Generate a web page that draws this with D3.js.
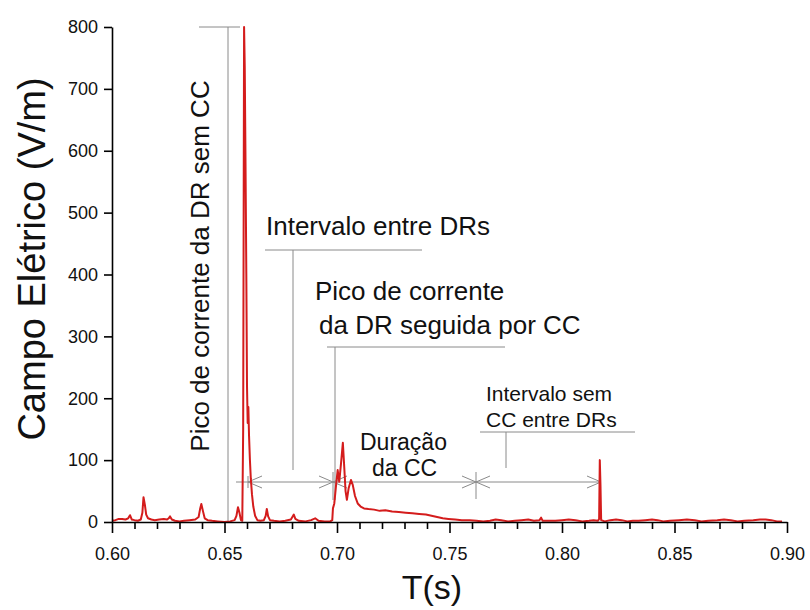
<!DOCTYPE html>
<html>
<head>
<meta charset="utf-8">
<script src="https://cdn.jsdelivr.net/npm/d3@7"></script>
<style>
  html, body { margin: 0; padding: 0; background: #fff; }
  svg { display: block; font-family: "Liberation Sans", Arial, sans-serif; }
</style>
</head>
<body>
<svg id="chart" width="810" height="610"></svg>
<script>
// ---- data (time in s, electric field in V/m) ----
const times = [
  0.6000,0.6015,0.6030,0.6045,0.6060,0.6072,0.6080,0.6088,0.6100,0.6115,
  0.6128,0.6135,0.6140,0.6146,0.6152,0.6160,0.6175,0.6190,0.6210,0.6230,
  0.6245,0.6252,0.6258,0.6266,0.6280,0.6300,0.6320,0.6345,0.6370,0.6385,
  0.6392,0.6397,0.6404,0.6412,0.6425,0.6445,0.6470,0.6500,0.6525,0.6545,
  0.6553,0.6560,0.6567,0.6573,0.6579,0.6583,0.6587,0.6590,0.6593,0.6597,
  0.6600,0.6603,0.6606,0.6609,0.6613,0.6617,0.6622,0.6628,0.6636,0.6646,
  0.6660,0.6675,0.6683,0.6688,0.6694,0.6702,0.6720,0.6745,0.6770,0.6795,
  0.6803,0.6808,0.6815,0.6830,0.6860,0.6885,0.6903,0.6918,0.6945,0.6970,
  0.6979,0.6982,0.6988,0.6996,0.7003,0.7010,0.7018,0.7026,0.7032,0.7038,
  0.7044,0.7052,0.7062,0.7070,0.7080,0.7092,0.7105,0.7120,0.7140,0.7165,
  0.7190,0.7215,0.7245,0.7275,0.7305,0.7335,0.7365,0.7395,0.7420,0.7445,
  0.7470,0.7495,0.7525,0.7555,0.7590,0.7620,0.7650,0.7680,0.7705,0.7730,
  0.7760,0.7790,0.7820,0.7850,0.7875,0.7900,0.7907,0.7914,0.7940,0.7970,
  0.8000,0.8030,0.8060,0.8090,0.8120,0.8140,0.8160,0.8165,0.8168,0.8171,
  0.8174,0.8190,0.8215,0.8240,0.8265,0.8290,0.8315,0.8340,0.8370,0.8400,
  0.8425,0.8450,0.8480,0.8520,0.8555,0.8590,0.8620,0.8650,0.8690,0.8720,
  0.8750,0.8780,0.8810,0.8850,0.8880,0.8905,0.8930,0.8955,0.8978
];
const field = [
  2,3,5,5,4,6,11,4,3,2,
  4,15,40,28,12,6,4,3,4,5,
  4,6,9,4,2,1,2,3,4,8,
  22,29,18,6,3,2,1,0,1,3,
  10,24,14,3,2,150,800,735,600,400,
  220,160,186,140,100,70,45,25,10,3,
  2,3,10,21,9,3,2,1,2,4,
  9,12,5,2,1,3,6,2,1,1,
  3,22,30,60,84,65,95,128,90,50,
  36,55,68,60,42,30,25,22,21,20,
  18,19,17,16,15,14,13,12,10,8,
  6,5,4,3,3,2,1,2,4,3,
  1,2,3,4,2,3,7,2,2,2,
  3,4,3,1,2,3,2,5,100,60,
  3,1,3,4,3,1,2,2,3,4,
  3,1,2,3,4,3,1,2,3,4,
  3,1,2,3,4,4,3,1,1
];
const xTicks = [0.60, 0.65, 0.70, 0.75, 0.80, 0.85, 0.90];
const xMinorTicks = d3.range(61, 90).map(d => d / 100).filter(d => Math.round(d * 100) % 5 !== 0);
const yTicks = [0, 100, 200, 300, 400, 500, 600, 700, 800];
const xLabel = "T(s)";
const yLabel = "Campo Elétrico (V/m)";

// ---- layout ----
const svg = d3.select("#chart");
svg.append("rect").attr("width", 810).attr("height", 610).attr("fill", "#fff");

const x = d3.scaleLinear().domain([0.6, 0.9]).range([112, 787]);
const y = d3.scaleLinear().domain([0, 800]).range([522, 27]);

const GRAY = "#8a8a8a";
const ann = svg.append("g").attr("class", "annotations");

function hline(t0, t1, v) {
  ann.append("line").attr("x1", x(t0)).attr("x2", x(t1)).attr("y1", y(v)).attr("y2", y(v))
    .attr("stroke", GRAY).attr("stroke-width", 1);
}
function vline(t, v0, v1) {
  ann.append("line").attr("x1", x(t)).attr("x2", x(t)).attr("y1", y(v0)).attr("y2", y(v1))
    .attr("stroke", GRAY).attr("stroke-width", 1);
}
function label(t, v, txt, size) {
  return ann.append("text").attr("x", x(t)).attr("y", y(v)).attr("font-size", size)
    .attr("fill", "#111").text(txt);
}
const tx = px => x.invert(px);
const vy = py => y.invert(py);

// 1. Peak of return stroke without CC
hline(tx(199), tx(240), 800);
vline(tx(228), 800, 0);
ann.append("text")
  .attr("transform", `translate(${209},${266}) rotate(-90)`)
  .attr("text-anchor", "middle").attr("font-size", 26).attr("fill", "#111")
  .text("Pico de corrente da DR sem CC");

// 2. Interval between return strokes
label(tx(266), vy(235), "Intervalo entre DRs", 26);
hline(tx(265), tx(422), vy(250));
vline(tx(293), vy(250), vy(470));

// 3. Peak of return stroke followed by CC
label(tx(315), vy(300), "Pico de corrente", 26);
label(tx(319), vy(334), "da DR seguida por CC", 26);
hline(tx(327), tx(505), vy(347));
vline(tx(335), vy(347), vy(500));

// 4. CC duration
label(tx(360), vy(450), "Duração", 23);
label(tx(372), vy(476), "da CC", 23);

// 5. Interval without CC
label(tx(486), vy(401), "Intervalo sem", 21);
label(tx(486), vy(427), "CC entre DRs", 21);
hline(tx(480), tx(635), vy(432));
vline(tx(506), vy(432), vy(468));

// dimension line with arrows
const arrowV = vy(482);
hline(tx(236), tx(601), arrowV);
const marks = [tx(248), tx(333), tx(476), tx(601)];
function arrowHead(tip, dir) {
  const px = x(tip), py = y(arrowV);
  ann.append("path")
    .attr("d", `M${px + dir * 14},${py - 6}L${px},${py}L${px + dir * 14},${py + 6}`)
    .attr("fill", "none").attr("stroke", GRAY).attr("stroke-width", 1);
}
for (let i = 0; i < marks.length - 1; i++) {
  arrowHead(marks[i], +1);
  arrowHead(marks[i + 1], -1);
}
vline(marks[0], vy(476), vy(488));
vline(marks[1], vy(472), vy(500));
vline(marks[2], vy(472), vy(499));

// ---- data line ----
const pts = times.map((t, i) => [t, field[i]]);
svg.append("path")
  .datum(pts)
  .attr("fill", "none")
  .attr("stroke", "#d41c1c")
  .attr("stroke-width", 2)
  .attr("stroke-linejoin", "round")
  .attr("d", d3.line().x(d => x(d[0])).y(d => y(d[1])));

// ---- axes ----
const gx = svg.append("g").attr("transform", `translate(0,${y(0)})`)
  .call(d3.axisBottom(x).tickValues(xTicks).tickFormat(d3.format(".2f"))
    .tickSize(11).tickSizeOuter(0).tickPadding(14));
const gxm = svg.append("g").attr("transform", `translate(0,${y(0)})`)
  .call(d3.axisBottom(x).tickValues(xMinorTicks).tickFormat("").tickSize(7).tickSizeOuter(0));
gxm.select(".domain").remove();
const gy = svg.append("g").attr("transform", `translate(${x(0.6)},0)`)
  .call(d3.axisLeft(y).tickValues(yTicks).tickSize(8).tickSizeOuter(0).tickPadding(6));

[gx, gxm, gy].forEach(g => {
  g.selectAll(".domain").attr("stroke", "#000").attr("stroke-width", 1.6);
  g.selectAll(".tick line").attr("stroke", "#000").attr("stroke-width", 1.6);
  g.selectAll(".tick text").attr("font-size", 18).attr("fill", "#111")
    .attr("font-family", "'Liberation Sans', Arial, sans-serif");
});

// axis titles
svg.append("text").attr("x", 432).attr("y", 599).attr("text-anchor", "middle")
  .attr("font-size", 34).attr("fill", "#111").text(xLabel);
svg.append("text").attr("transform", `translate(45,259) rotate(-90)`)
  .attr("text-anchor", "middle").attr("font-size", 38).attr("fill", "#111").text(yLabel);
</script>
</body>
</html>
